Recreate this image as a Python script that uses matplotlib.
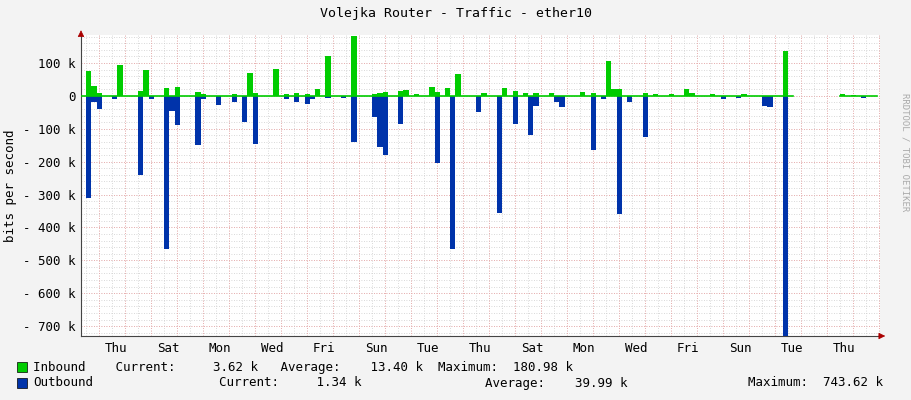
import numpy as np
import matplotlib.pyplot as plt

# spike positions (days since graph start) and values (bits/s)
in_days = [0.19, 0.35, 0.54, 1.38, 2.23, 2.38, 3.15, 3.50, 3.62, 4.31, 4.69, 5.77, 6.35, 6.54,
           7.35, 7.85, 8.27, 8.65, 9.08, 9.35, 10.31, 11.12, 11.35, 11.62, 12.19, 12.35, 12.73,
           13.31, 13.50, 14.08, 14.31, 15.31, 16.12, 16.54, 17.08, 17.35, 18.04, 19.12, 19.65,
           20.12, 20.31, 20.69, 21.50, 22.08, 22.58, 23.23, 23.46, 24.19, 25.35, 26.95, 29.19, 29.58]
in_vals = [75e3, 30e3, 10e3, 95e3, 15e3, 80e3, 25e3, 10e3, 28e3, 12e3, 5e3, 5e3, 70e3, 10e3,
           82e3, 5e3, 8e3, 5e3, 20e3, 120e3, 181e3, 5e3, 10e3, 12e3, 15e3, 18e3, 5e3,
           28e3, 12e3, 25e3, 65e3, 10e3, 25e3, 15e3, 10e3, 8e3, 10e3, 12e3, 8e3,
           105e3, 22e3, 22e3, 10e3, 5e3, 5e3, 20e3, 8e3, 5e3, 5e3, 135e3, 5e3, 3e3]
out_days = [0.19, 0.35, 0.58, 1.19, 2.19, 2.58, 3.19, 3.42, 3.62, 4.38, 4.58, 5.19, 5.77, 6.15,
            6.58, 7.88, 8.27, 8.62, 8.77, 9.38, 10.08, 10.35, 11.12, 11.31, 11.50, 11.69,
            12.15, 13.50, 14.12, 15.12, 16.08, 16.54, 17.12, 17.27, 17.46, 18.15, 18.31, 19.69,
            20.08, 20.69, 21.04, 21.50, 24.58, 25.27, 26.12, 26.31, 26.95, 29.96]
out_vals = [310e3, 20e3, 40e3, 10e3, 240e3, 10e3, 465e3, 45e3, 90e3, 150e3, 10e3, 28e3, 20e3, 80e3,
            145e3, 10e3, 20e3, 25e3, 10e3, 5e3, 5e3, 140e3, 65e3, 155e3, 90e3, 180e3,
            85e3, 205e3, 465e3, 50e3, 355e3, 85e3, 105e3, 120e3, 30e3, 20e3, 35e3, 165e3,
            10e3, 360e3, 20e3, 125e3, 10e3, 8e3, 30e3, 35e3, 743.62e3, 8e3]
gap = (27.35, 29.15)
day_labels = ['Thu', 'Sat', 'Mon', 'Wed', 'Fri', 'Sun', 'Tue', 'Thu', 'Sat', 'Mon',
              'Wed', 'Fri', 'Sun', 'Tue', 'Thu']

step = 0.2
t = np.arange(0, 30.8, step)
inb = np.zeros_like(t)
outb = np.zeros_like(t)
for d, v in zip(in_days, in_vals):
    inb[int(round(d / step))] = v
for d, v in zip(out_days, out_vals):
    outb[int(round(d / step))] = v
mask = (t >= gap[0]) & (t < gap[1])
inb[mask] = np.nan
outb[mask] = np.nan

mono = 'DejaVu Sans Mono'
fig = plt.figure(figsize=(9.11, 4.0), dpi=100, facecolor='#f3f3f3')
ax = fig.add_axes([81 / 911, 64 / 400, 799 / 911, 301 / 400], facecolor='white')

# grid
for y in np.arange(-720e3, 200e3, 20e3):
    ax.axhline(y, color='#cccccc', lw=0.6, ls=(0, (1, 2)), zorder=0)
for y in np.arange(-700e3, 200e3, 100e3):
    ax.axhline(y, color='#f0a0a0', lw=0.6, ls=(0, (1, 2)), zorder=0)
for x in np.arange(0.18, 30.8, 0.5):
    ax.axvline(x, color='#cccccc', lw=0.6, ls=(0, (1, 2)), zorder=0)
for x in np.arange(0.68, 30.8, 1.0):
    ax.axvline(x, color='#f0a0a0', lw=0.6, ls=(0, (1, 2)), zorder=0)

ax.fill_between(t, 0, inb, step='post', color='#00cc00', lw=0, zorder=2)
ax.fill_between(t, 0, -outb, step='post', color='#0033aa', lw=0, zorder=3)
ax.step(t, np.where(np.isnan(inb), np.nan, 0), where='post', color='#00cc00', lw=1.2, zorder=4)

ax.set_xlim(0, 30.73)
ax.set_ylim(-730e3, 185e3)
ax.set_xticks(1.35 + 2 * np.arange(len(day_labels)))
ax.set_xticklabels(day_labels, family=mono, fontsize=9)
yt = np.arange(-700e3, 101e3, 100e3)
ax.set_yticks(yt)
ax.set_yticklabels(['0' if v == 0 else f'{v / 1e3:.0f} k'.replace('-', '- ') for v in yt],
                   family=mono, fontsize=9)
ax.tick_params(length=0, pad=4)
for s in ['top', 'right']:
    ax.spines[s].set_visible(False)
ax.spines['left'].set_color('#444444')
ax.spines['bottom'].set_color('#444444')
ax.set_ylabel('bits per second', family=mono, fontsize=9)
ax.annotate('', xy=(1.01, 0), xytext=(0.995, 0), xycoords='axes fraction',
            arrowprops=dict(arrowstyle='-|>', color='#aa0000', lw=0.5))
ax.annotate('', xy=(0, 1.025), xytext=(0, 1.0), xycoords='axes fraction',
            arrowprops=dict(arrowstyle='-|>', color='#aa0000', lw=0.5))

fig.text(0.5, 0.965, 'Volejka Router - Traffic - ether10', ha='center', va='center',
         family=mono, fontsize=9.5)
fig.text(0.993, 0.62, 'RRDTOOL / TOBI OETIKER', rotation=270, ha='center', va='center',
         family=mono, fontsize=6.5, color='#aaaaaa')

fig.patches.append(plt.Rectangle((17 / 911, 1 - 372 / 400), 10 / 911, 10 / 400,
                                 transform=fig.transFigure, fc='#00cc00', ec='black', lw=0.5))
fig.patches.append(plt.Rectangle((17 / 911, 1 - 388 / 400), 10 / 911, 10 / 400,
                                 transform=fig.transFigure, fc='#0033aa', ec='black', lw=0.5))
kw = dict(family=mono, fontsize=9, va='center')
fig.text(33 / 911, 1 - 367 / 400,
         'Inbound    Current:     3.62 k   Average:    13.40 k  Maximum:  180.98 k', **kw)
y2 = 1 - 383 / 400
fig.text(33 / 911, y2, 'Outbound', **kw)
fig.text(219 / 911, y2, 'Current:     1.34 k', **kw)
fig.text(485 / 911, y2, 'Average:    39.99 k', **kw)
fig.text(748 / 911, y2, 'Maximum:  743.62 k', **kw)

fig.savefig('out.png', dpi=100, facecolor=fig.get_facecolor())
